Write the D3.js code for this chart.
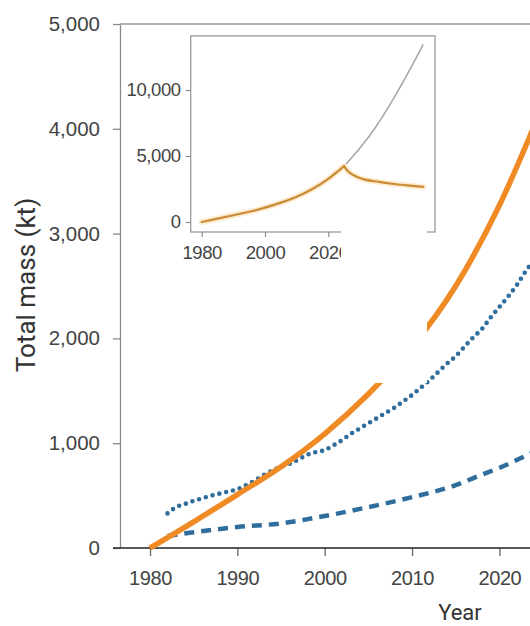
<!DOCTYPE html>
<html>
<head>
<meta charset="utf-8">
<script src="https://cdn.jsdelivr.net/npm/d3@7"></script>
<style>
  html, body { margin: 0; padding: 0; background: #fff; }
  svg { display: block; font-family: Roboto, "Noto Sans", sans-serif; }
</style>
</head>
<body>
<svg id="chart" width="530" height="626"></svg>
<script>
// ---- Data (kt) ----
// Modelled total mass (orange)
const orangeYears  = [1980, 1985, 1990, 1995, 2000, 2005, 2010, 2015, 2020, 2025];
const orangeValues = [0,    250,  510,  775,  1090, 1470, 1920, 2500, 3270, 4230];

// Observation-based estimate (dotted)
const dottedYears  = [1982, 1983, 1984, 1985, 1986, 1987, 1988, 1989, 1990, 1991, 1992, 1993, 1994, 1995, 1996, 1997, 1998, 1999, 2000, 2001, 2002, 2003, 2004, 2005, 2006, 2007, 2008, 2009, 2010, 2011, 2012, 2013, 2014, 2015, 2016, 2017, 2018, 2019, 2020, 2021, 2022, 2023, 2024];
const dottedValues = [330,  390,  420,  450,  475,  500,  520,  540,  560,  600,  645,  695,  740,  775,  805,  845,  890,  915,  935,  980,  1030, 1090, 1140, 1190, 1240, 1290, 1340, 1400, 1460, 1530, 1600, 1680, 1760, 1830, 1920, 2010, 2090, 2200, 2300, 2400, 2510, 2640, 2750];

// Lower estimate (dashed)
const dashedYears  = [1982, 1985, 1990, 1995, 2000, 2005, 2010, 2015, 2018, 2020, 2023, 2025];
const dashedValues = [115,  150,  200,  235,  305,  390,  485,  600,  700,  765,  880,  960];

// Inset projections after 2025
const projYears       = [2025, 2026, 2028, 2031, 2036, 2040, 2045, 2050];
const projCutValues   = [4230, 3900, 3540, 3250, 3040, 2900, 2770, 2660];
const trendYears      = [2025, 2030, 2035, 2040, 2045, 2050];
const trendValues     = [4230, 5600, 7200, 9100, 11200, 13450];

// Tick labels
const mainYTicks  = [0, 1000, 2000, 3000, 4000, 5000];
const mainXTicks  = [1980, 1990, 2000, 2010, 2020];
const insetYTicks = [0, 5000, 10000];
const insetXTicks = [1980, 2000, 2020, 2040];

// ---- Layout ----
const W = 530, H = 626;
const svg = d3.select("#chart");
const fmt = d3.format(",");

const x = d3.scaleLinear().domain([1980, 2020]).range([150, 499.4]);
const y = d3.scaleLinear().domain([0, 5000]).range([548, 24]);
const axisLeftX = 120;

const line = (xs, ys) => d3.line()
  .x(d => xs(d[0])).y(d => ys(d[1]))
  .curve(d3.curveMonotoneX);
const pairs = (a, b) => a.map((v, i) => [v, b[i]]);

// ---- Main axes ----
const gy = svg.append("g")
  .attr("transform", `translate(${axisLeftX},0)`)
  .call(d3.axisLeft(y).tickValues(mainYTicks).tickFormat(fmt)
        .tickSize(7).tickPadding(13).tickSizeOuter(0));
gy.select(".domain").attr("stroke", "#8a8a8a").attr("stroke-width", 1.3);
gy.selectAll(".tick line").attr("stroke", "#8a8a8a").attr("stroke-width", 1.3);
gy.selectAll(".tick text").attr("fill", "#444").attr("font-size", 20.5);

// top frame
svg.append("line")
  .attr("x1", axisLeftX).attr("x2", W)
  .attr("y1", y(5000)).attr("y2", y(5000))
  .attr("stroke", "#9a9a9a").attr("stroke-width", 1.3);

const gx = svg.append("g")
  .attr("transform", `translate(0,${y(0)})`)
  .call(d3.axisBottom(x).tickValues(mainXTicks).tickFormat(d3.format("d"))
        .tickSize(8).tickPadding(15).tickSizeOuter(0));
gx.select(".domain").remove();
gx.append("line").attr("x1", axisLeftX - 7).attr("x2", W)
  .attr("stroke", "#222").attr("stroke-width", 1.5);
gx.selectAll(".tick line").attr("stroke", "#666").attr("stroke-width", 1.3);
gx.selectAll(".tick text").attr("fill", "#444").attr("font-size", 20)
  .attr("letter-spacing", -0.4);

// axis titles
svg.append("text")
  .attr("transform", `translate(35,285) rotate(-90)`)
  .attr("text-anchor", "middle").attr("fill", "#333")
  .attr("font-size", 26).text("Total mass (kt)");
svg.append("text")
  .attr("x", 460).attr("y", 620).attr("text-anchor", "middle")
  .attr("fill", "#333").attr("font-size", 22).text("Year");

// ---- Main series ----
svg.append("path")
  .datum(pairs(dashedYears, dashedValues))
  .attr("d", line(x, y)).attr("fill", "none")
  .attr("stroke", "#2f6e9c").attr("stroke-width", 4.5)
  .attr("stroke-dasharray", "10 7");

svg.append("path")
  .datum(pairs(dottedYears, dottedValues))
  .attr("d", line(x, y)).attr("fill", "none")
  .attr("stroke", "#2f6e9c").attr("stroke-width", 4.6)
  .attr("stroke-linecap", "round")
  .attr("stroke-dasharray", "0 7");

svg.append("path")
  .datum(pairs(orangeYears, orangeValues))
  .attr("d", line(x, y)).attr("fill", "none")
  .attr("stroke", "#f08a24").attr("stroke-width", 5.5);

// ---- Inset ----
const ix = d3.scaleLinear().domain([1980, 2020]).range([201.7, 328.3]);
const iy = d3.scaleLinear().domain([0, 10000]).range([222, 90]);
const inset = { left: 190.7, right: 435, top: iy(14100), bottom: 232 };

const gi = svg.append("g");
gi.append("rect")
  .attr("x", inset.left).attr("y", inset.top)
  .attr("width", inset.right - inset.left).attr("height", inset.bottom - inset.top)
  .attr("fill", "#fff").attr("stroke", "#9a9a9a").attr("stroke-width", 1.3);

const giy = gi.append("g").attr("transform", `translate(${inset.left},0)`)
  .call(d3.axisLeft(iy).tickValues(insetYTicks).tickFormat(fmt)
        .tickSize(5).tickPadding(5).tickSizeOuter(0));
giy.select(".domain").remove();
const gix = gi.append("g").attr("transform", `translate(0,${inset.bottom})`)
  .call(d3.axisBottom(ix).tickValues(insetXTicks).tickFormat(d3.format("d"))
        .tickSize(5).tickPadding(9).tickSizeOuter(0));
gix.select(".domain").remove();
gi.selectAll(".tick line").attr("stroke", "#8a8a8a").attr("stroke-width", 1.2);
gi.selectAll(".tick text").attr("fill", "#444").attr("font-size", 18.5)
  .attr("letter-spacing", -0.4);

// growth without intervention (grey)
gi.append("path")
  .datum(pairs(trendYears, trendValues))
  .attr("d", line(ix, iy)).attr("fill", "none")
  .attr("stroke", "#a8a8a8").attr("stroke-width", 1.6);

// history plus reduced pathway (orange with soft halo)
const histPts = pairs(orangeYears, orangeValues);
const cutPts = pairs(projYears, projCutValues);
[[6, "#fdebd2", 1], [2.2, "#c98b34", 1]].forEach(([w, c, o]) => {
  [histPts, cutPts].forEach(pts => {
    gi.append("path").datum(pts)
      .attr("d", line(ix, iy)).attr("fill", "none")
      .attr("stroke", c).attr("stroke-width", w).attr("stroke-opacity", o)
      .attr("stroke-linecap", "round");
  });
});

// blank panel
svg.append("rect")
  .attr("x", 341).attr("y", 227)
  .attr("width", 86).attr("height", 156)
  .attr("fill", "#fff");
</script>
</body>
</html>
